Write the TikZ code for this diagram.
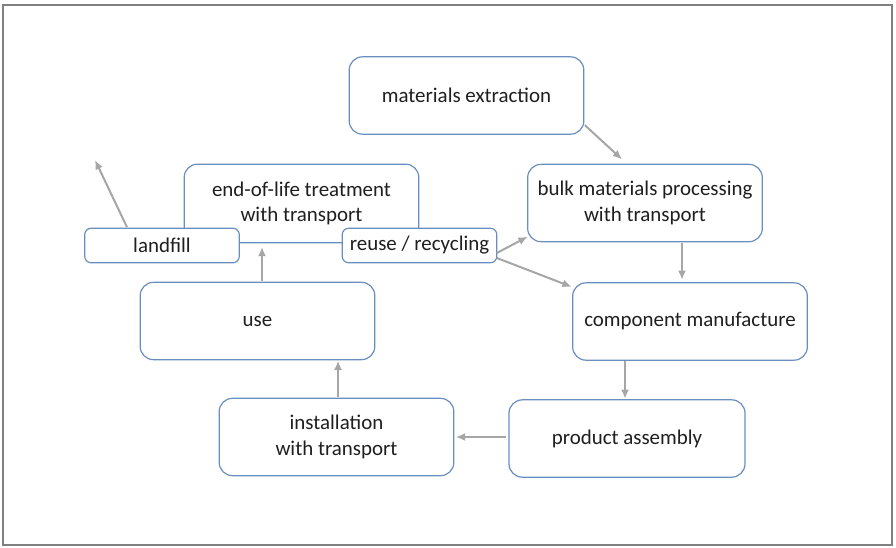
\documentclass[tikz,border=0pt]{standalone}
\usepackage{fontspec}
\setmainfont{Carlito}
\usepackage{tikz}
\usetikzlibrary{positioning,arrows.meta,shapes}

\definecolor{boxblue}{HTML}{6A8FBF}
\definecolor{arrowgray}{HTML}{A6A6A6}
\definecolor{framegray}{HTML}{808080}
\definecolor{textgray}{HTML}{1F1F1F}

\tikzset{
  stage/.style={draw=boxblue, line width=0.9pt, fill=white, rounded corners=10pt,
    align=center, text=textgray, font=\fontsize{15.7}{19}\selectfont,
    minimum width=176pt, minimum height=58pt, inner sep=2pt, outer sep=0pt},
  tag/.style={stage, rounded corners=5pt, minimum width=116pt, minimum height=26pt},
  arr/.style={draw=arrowgray, line width=1.5pt, -{Latex[length=7pt,width=6pt]}}
}

\begin{document}
\begin{tikzpicture}[x=0.75pt,y=-0.75pt]
  \useasboundingbox (0,0) rectangle (896,547);
  \draw[framegray, line width=1.5pt] (3,4.5) rectangle (892,545);

  % stages of the life cycle
  \node[stage] (extract) at (466.5,95.5) {materials extraction};
  \node[stage] (bulk) at (645,203) {bulk materials processing\\with transport};
  \node[stage] (comp) at (690,321.5) {component manufacture};
  \node[stage, minimum width=177pt] (assembly) at (627,438.5) {product assembly};
  \node[stage] (install) at (336.5,437) {installation\\with transport};
  \node[stage] (use) at (257.5,321) {use};
  \node[stage, minimum height=59pt] (eol) at (301.5,203.5) {end-of-life treatment\\with transport};
  \node[tag] (landfill) at (162,245.5) {landfill};
  \node[tag] (reuse) at (419.5,245.5) {reuse / recycling};
  \coordinate (dump) at (95,160);

  \draw[arr] ([shift={(1,-9)}]extract.south east) -- ([shift={(-23,-5)}]bulk.north);
  \draw[arr] ([shift={(37,1)}]bulk.south) -- ([shift={(-8,-3)}]comp.north);
  \draw[arr] ([shift={(-65,1)}]comp.south) -- ([shift={(-2,-1)}]assembly.north);
  \draw[arr] ([shift={(-3,-1.5)}]assembly.west) -- ([shift={(2,0)}]install.east);
  \draw[arr] ([shift={(1.5,-1)}]install.north) -- ([shift={(80.5,1)}]use.south);
  \draw[arr] ([shift={(4.5,-1)}]use.north) -- ([shift={(-39.5,4)}]eol.south);
  \draw[arr] ([shift={(-35,-1)}]landfill.north) -- (dump);
  \draw[arr] ([shift={(0,7.5)}]reuse.east) -- ([shift={(0,-5)}]bulk.south west);
  \draw[arr] ([shift={(0,12.5)}]reuse.east) -- ([shift={(-1,4)}]comp.north west);
\end{tikzpicture}
\end{document}
